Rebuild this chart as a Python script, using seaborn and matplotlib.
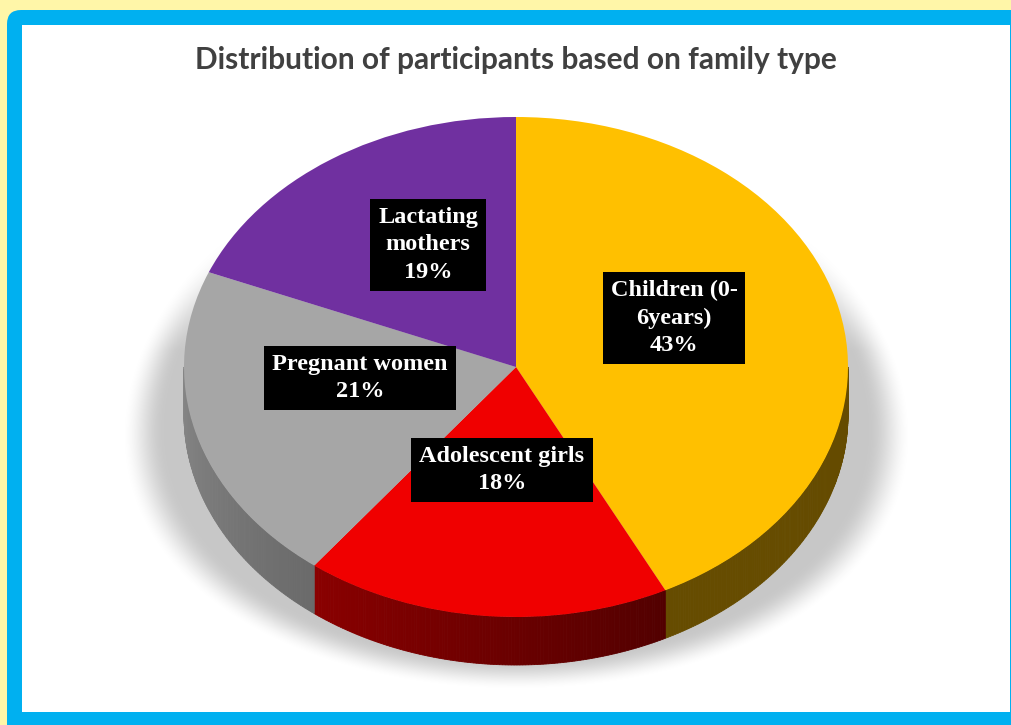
import numpy as np
import matplotlib
matplotlib.use("Agg")
import matplotlib.pyplot as plt
import seaborn as sns
from matplotlib.patches import FancyBboxPatch, Rectangle, Polygon
from matplotlib.transforms import IdentityTransform
from matplotlib.colors import to_rgb

# ---- data ----
categories = ["Children (0-\n6years)", "Adolescent girls", "Pregnant women", "Lactating\nmothers"]
values = [43, 18, 21, 19]
title = "Distribution of participants based on family type"

# ---- style ----
top_colors = ["#FFC000", "#F00000", "#A6A6A6", "#7030A0"]
side_colors = [("#664C00", "#654B00"), ("#8A0000", "#520000"),
               ("#878787", "#6A6A6A"), ("#5A2080", "#4A1870")]
label_pos_px = [(674, 318), (502, 470), (360, 378), (428, 245)]

sns.set_theme(style="white")
plt.rcParams["font.family"] = ["DejaVu Sans"]

W, H = 1012, 725
fig = plt.figure(figsize=(W / 100, H / 100), dpi=100)
fig.patch.set_facecolor("#FFF6A8")
ax = fig.add_axes([0, 0, 1, 1])

# geometry: pie top ellipse centre (px), semi axes (px), wall depth (px)
cx, cy, rx, ry = 516, 367, 332, 250
depth = 48 / ry

ident = IdentityTransform()
# frame
ax.add_patch(FancyBboxPatch((7, -20), W + 30, H - 10 + 20,
                            boxstyle="round,pad=0,rounding_size=14",
                            facecolor="#00B0F0", edgecolor="none",
                            transform=ident, zorder=-10, clip_on=False))
ax.add_patch(Rectangle((22, H - 712), 1010 - 22, 712 - 25,
                       facecolor="white", edgecolor="none",
                       transform=ident, zorder=-9, clip_on=False))

# soft perspective shadow (decoration), computed on the pixel grid
yy, xx = np.mgrid[0:H, 0:W].astype(float)
a_eff = 334 + 0.15 * np.clip(yy - 250, 0, None)
d = np.sqrt(((xx - cx) / a_eff) ** 2 + ((yy - 402) / 262) ** 2)
t = np.clip((1.10 - d) / 0.12, 0, 1)
alpha = 0.22 * t * t * (3 - 2 * t)
fade_top = np.clip((yy - 230) / 120, 0, 1)
alpha *= fade_top
alpha[(xx < 23) | (xx > 1009) | (yy > 711)] = 0
rgba = np.zeros((H, W, 4))
rgba[..., 3] = alpha
ax.imshow(rgba, extent=[-cx / rx, (W - cx) / rx, (cy - H) / ry, cy / ry],
          origin="upper", zorder=1, interpolation="bilinear")

# pie top
wedges, _ = ax.pie(values, colors=top_colors, startangle=90, counterclock=False,
                   radius=1, center=(0, 0), wedgeprops=dict(linewidth=0))
for w in wedges:
    w.set_zorder(3)

# side walls (front half only)
total = sum(values)
start = 90.0
for v, (c0, c1) in zip(values, side_colors):
    end = start - 360.0 * v / total
    a, b = max(end, -180.0), min(start, 0.0)
    if b > a:
        n = max(int((b - a) / 0.5), 2)
        ts = np.linspace(a, b, n + 1)
        c0r, c1r = np.array(to_rgb(c0)), np.array(to_rgb(c1))
        for j in range(n):
            t0, t1 = np.radians(ts[j]), np.radians(ts[j + 1])
            f = (ts[j] - a) / (b - a)
            col = np.clip(c0r + (c1r - c0r) * f, 0, 1)
            pts = [(np.cos(t0), np.sin(t0)), (np.cos(t1), np.sin(t1)),
                   (np.cos(t1), np.sin(t1) - depth), (np.cos(t0), np.sin(t0) - depth)]
            ax.add_patch(Polygon(pts, closed=True, facecolor=col,
                                 edgecolor=col, linewidth=0.6, zorder=2))
    start = end

ax.set_aspect("auto")
ax.set_xlim(-cx / rx, (W - cx) / rx)
ax.set_ylim((cy - H) / ry, cy / ry)
ax.axis("off")

# labels
for cat, v, (px, py) in zip(categories, values, label_pos_px):
    ax.text(px / W, 1 - py / H, f"{cat}\n{v}%", transform=fig.transFigure,
            ha="center", va="center", color="white", fontsize=17.5,
            fontweight="bold", family="Liberation Serif", linespacing=1.38,
            bbox=dict(boxstyle="square,pad=0.33", facecolor="black", edgecolor="none"),
            zorder=6)

fig.text(516 / W, 1 - 60 / H, title, ha="center", va="center", fontsize=21.5,
         fontweight="bold", color="#404040", family="Lato")

fig.savefig("out.png", dpi=100, facecolor=fig.get_facecolor())
